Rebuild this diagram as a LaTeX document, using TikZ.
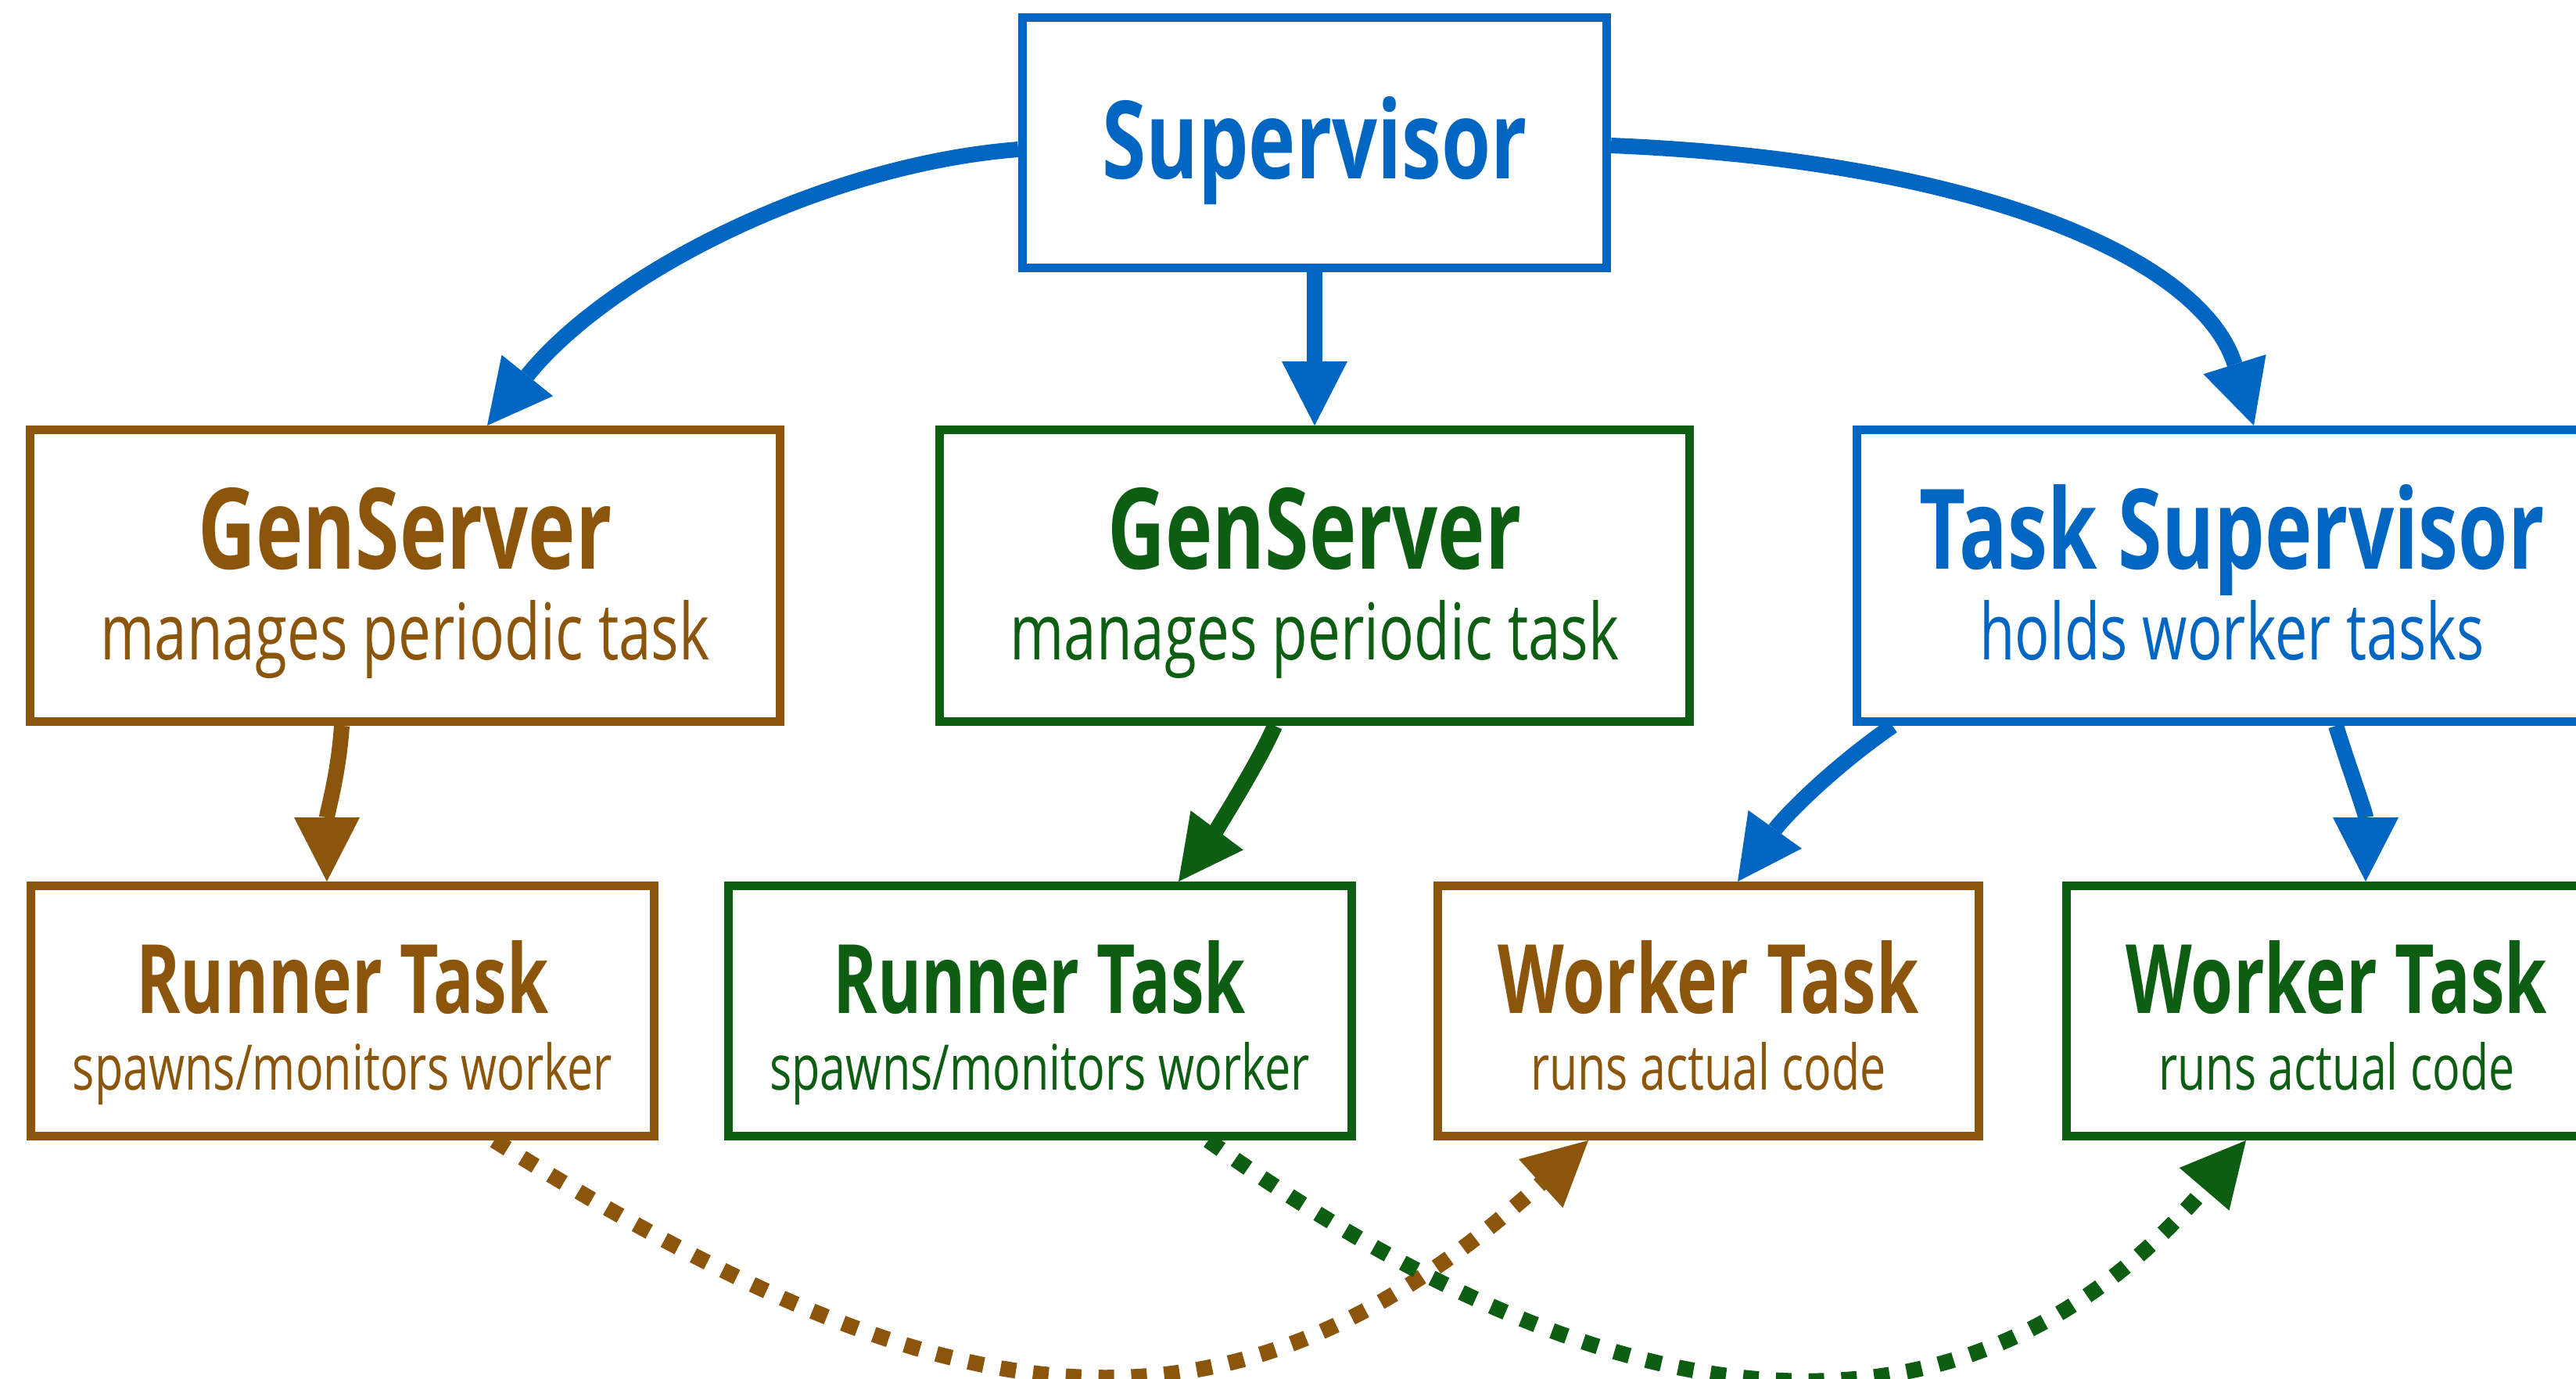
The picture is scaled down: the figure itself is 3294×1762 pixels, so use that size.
\documentclass[tikz,border=0pt]{standalone}
\usepackage{graphicx}
\usepackage{fontspec}
\setmainfont{Open Sans}
\usetikzlibrary{arrows.meta}

\definecolor{supblue}{RGB}{0,102,194}
\definecolor{genbrown}{RGB}{139,85,11}
\definecolor{gengreen}{RGB}{13,94,19}

% text squeezed to a given width and height (in pt)
\newcommand{\fitlabel}[3]{\resizebox{#1pt}{#2pt}{#3}}

\begin{document}
\begin{tikzpicture}[x=1pt,y=-1pt,
  box/.style={draw=#1, line width=11pt, inner sep=0pt, fill=white},
  topbox/.style={box=supblue, minimum width=747pt, minimum height=320pt},
  midbox/.style={box=#1, minimum width=959pt, minimum height=373pt},
  runbox/.style={box=#1, minimum width=797pt, minimum height=320pt},
  workbox/.style={box=#1, minimum width=692pt, minimum height=320pt},
  lbl/.style={anchor=base, inner sep=0pt, text=#1},
  link/.style={draw=#1, line width=20pt,
    -{Triangle[length=82pt,width=84pt,line width=0pt]}},
  spawn/.style={link=#1, dash pattern=on 20pt off 22pt}]

\path[use as bounding box] (0,0) rectangle (3294,1762);
\fill[white] (0,0) rectangle (3294,1762);
\clip (0,0) rectangle (3294,1762);

% boxes
\node[topbox] (sup) at (1681,182.5) {};
\node[midbox=genbrown] (gsB) at (518,736) {};
\node[midbox=gengreen] (gsG) at (1681,736) {};
\node[midbox=supblue] (ts) at (2854,736) {};
\node[runbox=genbrown] (rB) at (438,1292.5) {};
\node[runbox=gengreen] (rG) at (1329.5,1292.5) {};
\node[workbox=genbrown] (wB) at (2184.5,1292.5) {};
\node[workbox=gengreen] (wG) at (2988,1292.5) {};

% labels
\node[lbl=supblue] (supT) at (sup.center |- 0,228) {\fitlabel{543}{105}{\bfseries Supervisor}};

\node[lbl=genbrown] (gsBt) at (gsB.center |- 0,727) {\fitlabel{529}{104}{\bfseries GenServer}};
\node[lbl=genbrown] (gsBs) at (gsB.center |- 0,843) {\fitlabel{779}{76}{manages periodic task}};
\node[lbl=gengreen] (gsGt) at (gsG.center |- 0,727) {\fitlabel{529}{104}{\bfseries GenServer}};
\node[lbl=gengreen] (gsGs) at (gsG.center |- 0,843) {\fitlabel{779}{76}{manages periodic task}};
\node[lbl=supblue] (tst) at (ts.center |- 0,727) {\fitlabel{799}{108}{\bfseries Task Supervisor}};
\node[lbl=supblue] (tss) at (ts.center |- 0,843) {\fitlabel{645}{76}{holds worker tasks}};

\node[lbl=genbrown] (rBt) at (rB.center |- 0,1295) {\fitlabel{527}{93}{\bfseries Runner Task}};
\node[lbl=genbrown] (rBs) at (rB.center |- 0,1393) {\fitlabel{690}{61}{spawns/monitors worker}};
\node[lbl=gengreen] (rGt) at (rG.center |- 0,1295) {\fitlabel{527}{93}{\bfseries Runner Task}};
\node[lbl=gengreen] (rGs) at (rG.center |- 0,1393) {\fitlabel{690}{61}{spawns/monitors worker}};
\node[lbl=genbrown] (wBt) at (wB.center |- 0,1295) {\fitlabel{538}{93}{\bfseries Worker Task}};
\node[lbl=genbrown] (wBs) at (wB.center |- 0,1393) {\fitlabel{455}{61}{runs actual code}};
\node[lbl=gengreen] (wGt) at (wG.center |- 0,1295) {\fitlabel{538}{93}{\bfseries Worker Task}};
\node[lbl=gengreen] (wGs) at (wG.center |- 0,1393) {\fitlabel{455}{61}{runs actual code}};

% supervision links
\draw[link=supblue] (sup.west |- 0,191) .. controls (1049,211) and (777,352) .. (gsB.north -| 623,0);
\draw[link=supblue] (sup.south) -- (gsG.north);
\draw[link=supblue] (sup.east |- 0,186) .. controls (2527,205) and (2815,330) .. (ts.north -| 2882,0);
\draw[link=genbrown] (gsB.south -| 437,0) .. controls (433,990) and (418,1040) .. (rB.north -| 418,0);
\draw[link=gengreen] (gsG.south -| 1630,0) .. controls (1606,983) and (1543,1079) .. (rG.north -| 1507,0);
\draw[link=supblue] (ts.south -| 2420,0) .. controls (2338,985) and (2280,1046) .. (wB.north -| 2222,0);
\draw[link=supblue] (ts.south -| 2987,0) .. controls (3005,985) and (3025,1040) .. (wG.north -| 3025,0);

% spawn / monitor links
\draw[spawn=genbrown] (rB.south -| 632,0) .. controls (1186,1804) and (1549,1895) .. (wB.south -| 2031,0);
\draw[spawn=gengreen] (rG.south -| 1545,0) .. controls (2023,1800) and (2488,1906) .. (wG.south -| 2872,0);
\end{tikzpicture}
\end{document}
